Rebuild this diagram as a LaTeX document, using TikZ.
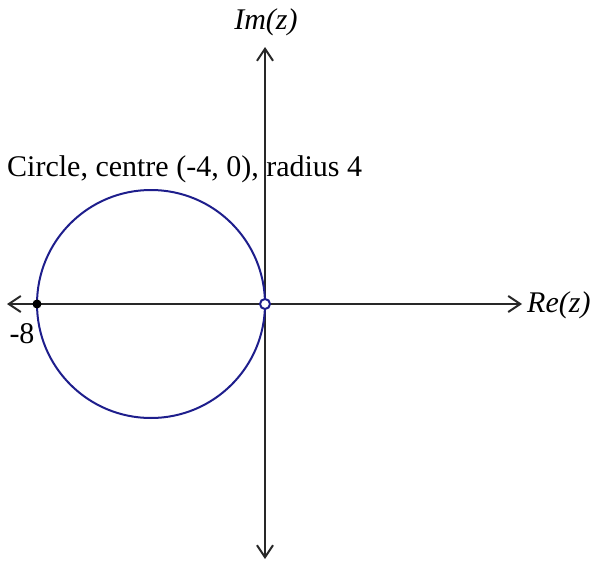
\documentclass[tikz,border=0pt]{standalone}
\usepackage{fontspec}
\setmainfont{Liberation Serif}
\usetikzlibrary{arrows.meta}
\definecolor{circ}{RGB}{30,30,140}
\definecolor{axis}{RGB}{40,40,40}
\begin{document}
\begin{tikzpicture}[x=1pt,y=-1pt,
  axisline/.style={draw=axis,line width=2pt,{Straight Barb[length=12pt,width=16pt,line width=2pt]}-{Straight Barb[length=12pt,width=16pt,line width=2pt]}},
  lbl/.style={font=\fontsize{30}{36}\selectfont,inner sep=0pt}]
\useasboundingbox (0,0) rectangle (592,562);
\coordinate (xl) at (7,304);
\coordinate (xr) at (522,304);
\coordinate (yt) at (265,47);
\coordinate (yb) at (265,559);
\coordinate (O) at (265,304);
\coordinate (C) at (151,304);
\draw[axisline] (xl) -- (xr);
\draw[axisline] (yb) -- (yt);
\draw[circ,line width=2pt] (C) circle[radius=114];
\node[circle,fill=black,inner sep=0pt,minimum size=9pt] (p8) at (37,304) {};
\node[circle,draw=circ,fill=white,line width=2pt,inner sep=0pt,minimum size=10pt] (p0) at (O) {};
\node[lbl,anchor=center] (im) at (266,22) {\itshape Im(z)};
\node[lbl,anchor=west] (re) at (527,305) {\itshape Re(z)};
\node[lbl,anchor=center] (m8) at (22,334) {-8};
\node[lbl,anchor=base west] (cap) at (7,176) {Circle, centre (-4, 0), radius 4};
\end{tikzpicture}
\end{document}
